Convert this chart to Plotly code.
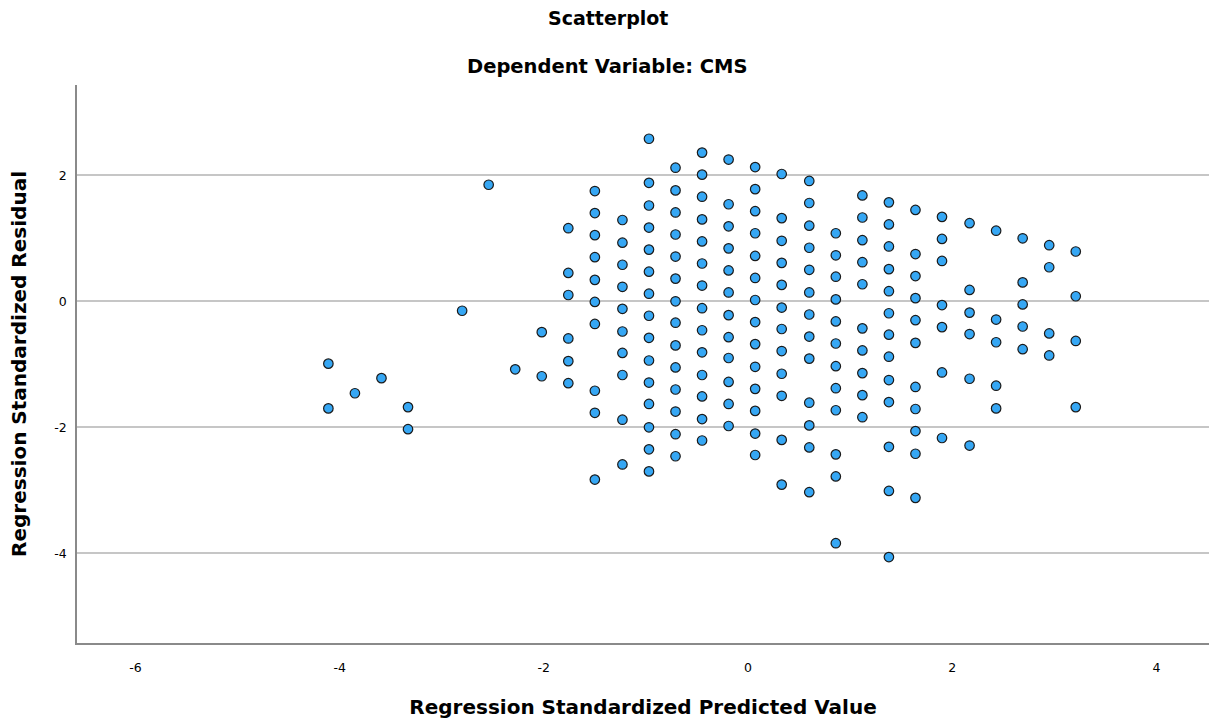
import plotly.graph_objects as go

# Predicted value (x) of each column of points
col_x = [-4.11, -3.85, -3.59, -3.33, -2.80, -2.54, -2.28, -2.02, -1.76, -1.50,
         -1.23, -0.97, -0.71, -0.45, -0.19, 0.07, 0.33, 0.60, 0.86, 1.12,
         1.38, 1.64, 1.90, 2.17, 2.43, 2.69, 2.95, 3.21]

# Standardized residuals in each column (same order as col_x)
col_resid = [
    [-0.99, -1.70],
    [-1.46],
    [-1.22],
    [-1.68, -2.03],
    [-0.15],
    [1.85],
    [-1.08],
    [-0.49, -1.19],
    [1.16, 0.45, 0.10, -0.59, -0.95, -1.30],
    [1.75, 1.40, 1.05, 0.70, 0.34, -0.01, -0.36, -1.42, -1.77, -2.83],
    [1.29, 0.93, 0.58, 0.23, -0.12, -0.48, -0.82, -1.17, -1.88, -2.59],
    [2.58, 1.88, 1.52, 1.17, 0.82, 0.47, 0.12, -0.23, -0.58, -0.94, -1.29,
     -1.63, -2.00, -2.35, -2.70],
    [2.12, 1.76, 1.41, 1.06, 0.71, 0.36, 0.00, -0.34, -0.70, -1.05, -1.40,
     -1.75, -2.11, -2.46],
    [2.36, 2.01, 1.66, 1.30, 0.95, 0.60, 0.25, -0.11, -0.46, -0.81, -1.17,
     -1.51, -1.87, -2.21],
    [2.25, 1.54, 1.19, 0.84, 0.49, 0.14, -0.22, -0.57, -0.90, -1.28, -1.63,
     -1.98],
    [2.13, 1.78, 1.43, 1.08, 0.72, 0.37, 0.02, -0.33, -0.68, -1.04, -1.39,
     -1.74, -2.10, -2.44],
    [2.02, 1.32, 0.96, 0.61, 0.26, -0.10, -0.44, -0.79, -1.15, -1.50, -2.20,
     -2.91],
    [1.91, 1.56, 1.20, 0.85, 0.50, 0.14, -0.21, -0.56, -0.91, -1.61, -1.97,
     -2.32, -3.03],
    [1.08, 0.73, 0.39, 0.03, -0.32, -0.67, -1.03, -1.38, -1.73, -2.43, -2.78,
     -3.84],
    [1.68, 1.33, 0.97, 0.62, 0.27, -0.43, -0.78, -1.14, -1.49, -1.84],
    [1.57, 1.22, 0.87, 0.51, 0.16, -0.19, -0.53, -0.88, -1.25, -1.60, -2.31,
     -3.01, -4.06],
    [1.45, 0.75, 0.40, 0.05, -0.30, -0.66, -1.36, -1.71, -2.06, -2.42, -3.12],
    [1.34, 0.99, 0.64, -0.06, -0.41, -1.13, -2.17],
    [1.24, 0.18, -0.18, -0.52, -1.23, -2.29],
    [1.12, -0.29, -0.65, -1.34, -1.70],
    [1.00, 0.30, -0.05, -0.40, -0.76],
    [0.89, 0.54, -0.51, -0.86],
    [0.79, 0.08, -0.63, -1.68],
]

x_ticks = [-6, -4, -2, 0, 2, 4]
y_ticks = [-4, -2, 0, 2]

xs, ys = [], []
for cx, rs in zip(col_x, col_resid):
    for r in rs:
        xs.append(cx)
        ys.append(r)

FONT = "DejaVu Sans"

fig = go.Figure(go.Scatter(
    x=xs, y=ys, mode="markers",
    marker=dict(size=9.5, color="#36a7f4",
                line=dict(color="#1a1a1a", width=1.2)),
    hoverinfo="x+y", showlegend=False,
))

fig.update_layout(
    width=1209, height=722,
    margin=dict(l=77, r=0, t=85, b=79),
    paper_bgcolor="white", plot_bgcolor="white",
    font=dict(family=FONT, color="#000000"),
    annotations=[
        dict(text="<b>Scatterplot</b>", xref="paper", yref="paper",
             x=0.469, y=1.120, xanchor="center", yanchor="middle",
             showarrow=False, font=dict(size=19, family=FONT, color="#000")),
        dict(text="<b>Dependent Variable: CMS</b>", xref="paper", yref="paper",
             x=0.469, y=1.034, xanchor="center", yanchor="middle",
             showarrow=False, font=dict(size=19.5, family=FONT, color="#000")),
    ],
)

fig.update_xaxes(
    range=[-6.572, 4.515], tickvals=x_ticks,
    ticktext=[str(v) for v in x_ticks],
    showgrid=False, zeroline=False,
    showline=True, linecolor="#8a8a8a", linewidth=2,
    ticks="outside", ticklen=12, tickcolor="rgba(0,0,0,0)",
    tickfont=dict(size=12.5, family=FONT, color="#000"),
    title=dict(text="<b>Regression Standardized Predicted Value</b>",
               font=dict(size=20, family=FONT, color="#000"), standoff=26),
)

fig.update_yaxes(
    range=[-5.424, 3.433], tickvals=y_ticks,
    ticktext=[str(v) for v in y_ticks],
    showgrid=True, gridcolor="#c6c6c6", gridwidth=1.5,
    zeroline=True, zerolinecolor="#c6c6c6", zerolinewidth=1.5,
    showline=True, linecolor="#8a8a8a", linewidth=1.5,
    ticks="outside", ticklen=6, tickcolor="rgba(0,0,0,0)",
    tickfont=dict(size=12.5, family=FONT, color="#000"),
    title=dict(text="<b>Regression Standardized Residual</b>",
               font=dict(size=20, family=FONT, color="#000"), standoff=22),
)

fig.write_html("out.html")
